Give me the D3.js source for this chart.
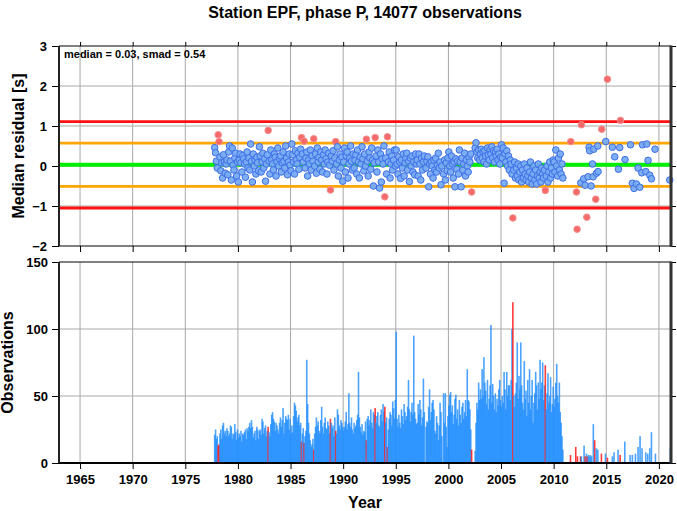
<!DOCTYPE html>
<html><head><meta charset="utf-8">
<script src="https://cdn.jsdelivr.net/npm/d3@7"></script>
<style>
body{margin:0;background:#fff}
svg{display:block}
text{font-family:"Liberation Sans",Arial,Helvetica,sans-serif;font-weight:bold;fill:#000}
</style>
</head><body><svg id="c" width="677" height="511"></svg>
<script>
// ---------- DATA ----------
const title = "Station EPF, phase P, 14077 observations";
const statsLabel = "median = 0.03, smad = 0.54";
const median = 0.03, smad = 0.54;
const firstYear = 1977, firstMonth = 10; // monthly series starts Oct 1977

const monthlyResidual = [
 0.46,0.33,0.12,
 -0.05,0.78,0.61,0.22,-0.12,0.08,-0.3,0.28,0.1,-0.18,0.05,0.15,
 -0.22,0.35,0.5,0.12,-0.35,0.45,0.02,-0.1,0.2,0.32,-0.25,0.1,
 -0.4,0.15,0.3,0.08,-0.15,0.26,0.18,0.05,-0.28,0.1,0.35,-0.05,
 0.2,-0.1,0.55,0.12,-0.4,0.3,0.0,0.15,-0.2,0.22,0.08,-0.12,
 0.48,0.25,-0.15,0.1,0.32,-0.05,0.18,-0.38,0.05,0.28,0.89,0.12,
 -0.2,0.4,0.15,0.05,-0.1,0.3,0.22,-0.25,0.1,0.45,0.0,0.18,
 0.25,-0.15,0.08,0.35,0.12,-0.05,0.5,0.2,-0.22,0.1,0.3,0.02,
 -0.12,0.55,0.28,0.1,-0.2,0.38,0.15,0.05,0.32,-0.08,0.22,0.42,
 0.71,0.3,0.1,0.62,-0.05,0.2,0.35,-0.25,0.15,0.05,0.4,-0.1,
 0.25,0.12,0.68,0.0,0.3,-0.18,0.45,0.1,0.22,-0.08,0.35,0.15,
 -0.15,0.28,0.05,0.4,0.18,-0.2,0.1,0.32,0.02,-0.6,0.25,0.12,
 0.38,-0.1,0.2,0.61,0.05,0.48,-0.25,0.15,0.3,-0.05,0.22,-0.38,
 0.1,0.45,-0.15,0.25,0.35,-0.3,0.05,0.2,0.5,0.12,-0.1,0.3,
 -0.05,0.15,0.28,-0.2,0.4,0.1,-0.3,0.22,0.05,0.48,0.18,-0.12,
 0.3,0.0,0.67,0.12,-0.25,0.35,0.2,-0.08,0.45,0.15,-0.5,0.08,
 0.71,0.25,-0.15,0.4,0.1,-0.55,0.3,-0.4,0.18,0.05,0.5,-0.77,
 0.2,-0.2,0.73,0.1,0.35,-0.3,0.05,0.25,-0.1,0.15,0.4,0.0,
 0.4,0.05,-0.2,0.23,0.1,-0.31,0.15,-0.05,0.3,-0.25,0.08,0.2,
 0.32,-0.1,0.12,-0.39,0.2,0.0,0.25,-0.15,0.1,-0.22,0.3,0.05,
 0.15,-0.25,0.3,0.05,-0.35,0.2,-0.1,0.1,0.25,null,-0.05,0.12,
 0.23,-0.52,0.05,-0.2,0.1,0.0,-0.3,0.15,-0.1,0.2,-0.15,0.02,
 0.32,-0.05,0.1,-0.47,0.0,null,-0.2,0.15,-0.35,0.08,-0.12,0.2,
 0.35,0.0,-0.15,0.25,0.05,-0.3,0.1,-0.52,0.18,-0.08,0.12,-0.2,
 0.4,0.1,-0.52,0.2,-0.1,0.05,0.32,-0.25,0.15,0.0,-0.15,0.22,
 0.1,0.3,-0.65,null,null,null,0.45,0.58,0.35,0.2,0.4,0.15,
 0.3,0.42,0.2,0.35,0.1,0.38,0.25,0.05,0.45,0.28,0.15,0.4,
 0.3,0.48,0.2,0.38,0.1,0.35,0.25,0.42,0.15,0.3,0.05,0.22,
 0.53,0.2,0.45,-0.43,0.3,0.1,0.38,0.0,0.25,-0.1,0.15,0.05,
 -0.2,-1.3,-0.1,0.1,-0.3,-0.05,-0.25,0.05,-0.35,-0.15,0.0,-0.4,
 -0.1,-0.3,0.05,-0.2,-0.35,-0.05,-0.25,-0.4,-0.15,0.1,-0.3,-0.45,
 -0.2,0.0,-0.35,-0.1,-0.45,-0.25,0.05,-0.3,-0.15,-0.4,-0.05,-0.2,
 -0.3,-0.1,-0.61,-0.25,0.0,-0.4,-0.15,0.1,-0.3,-0.05,-0.2,0.15,
 0.1,-0.15,0.4,0.0,-0.25,0.2,-0.1,0.3,-0.2,0.05,-0.3
];

const monthlyCount = [
 21,25,18,
 20,13,14,22,25,18,28,30,22,24,20,26,
 24,20,22,28,27,18,22,21,29,23,17,25,
 19,22,20,24,16,22,21,23,25,18,26,24,
 27,30,26,32,27,19,22,24,17,27,25,18,
 24,25,21,33,31,22,26,28,20,24,27,23,
 20,29,36,38,33,31,24,30,28,25,22,30,
 34,27,32,41,22,30,35,33,32,36,25,33,
 22,28,23,35,45,43,39,31,34,36,28,30,
 16,22,26,15,20,24,77,44,30,22,17,12,
 14,18,10,22,27,34,28,31,24,22,32,42,
 27,22,30,34,26,25,31,28,22,33,30,26,
 28,20,34,24,22,40,36,28,25,32,30,27,
 24,27,31,38,25,29,52,30,27,34,25,22,
 30,26,28,32,36,68,34,27,23,29,21,24,
 23,31,17,33,35,28,32,40,30,26,38,36,
 41,30,35,38,28,27,36,40,31,44,38,42,
 30,34,12,25,33,38,36,28,46,41,33,47,
 98,33,27,36,30,26,40,35,29,44,38,32,
 35,42,62,40,31,38,45,36,95,38,33,29,
 30,44,36,47,40,28,34,63,38,null,27,31,
 30,42,55,32,38,45,47,40,24,22,35,30,
 17,28,45,38,20,null,52,30,52,27,12,35,
 43,51,53,38,43,29,36,48,51,33,40,28,
 47,36,30,42,45,33,38,47,35,70,47,46,
 40,25,10,null,null,null,9,30,45,40,60,47,
 55,48,70,50,79,60,54,44,62,40,48,58,
 103,45,59,50,40,52,38,48,43,55,62,47,
 42,50,45,68,55,40,68,50,58,58,47,62,
 100,120,50,42,52,60,90,48,65,55,90,58,
 45,40,76,48,54,35,62,45,70,40,50,62,
 30,45,52,68,58,40,60,48,77,55,60,75,
 47,58,73,40,52,67,45,50,64,38,44,57,
 42,48,60,74,50,45,60,38,30,20,10
];

const outlierMonths = ["1978-02","1978-03","1982-11","1986-01","1986-04","1987-03","1988-10",
 "1989-04","1992-03","1993-01","1993-12","1994-03","2002-03","2006-02","2009-03"];

const lateYears = [2011.63,2012.17,2012.23,2012.58,2012.64,2012.86,2012.99,2013.15,2013.27,2013.37,
 2013.43,2013.56,2013.69,2013.75,2013.81,2014.0,2014.07,2014.19,2014.22,2014.57,2014.95,2015.11,
 2015.58,2015.8,2016.16,2016.28,2016.35,2016.78,2017.3,2017.48,2017.64,2017.86,2018.02,2018.18,
 2018.37,2018.44,2018.75,2018.85,2018.97,2019.13,2019.29,2019.63,2021.03];
const lateResidual = [0.61,-0.65,-1.58,-0.42,1.03,-0.32,-0.48,-1.28,-0.27,0.47,0.38,-0.5,0.05,-0.27,
 0.42,-0.83,-0.18,0.5,-0.14,0.92,0.61,2.17,0.47,0.23,-0.08,0.46,1.14,0.16,0.53,-0.43,-0.56,-0.45,
 -0.05,-0.53,-0.17,0.53,-0.14,0.55,0.14,-0.23,-0.32,0.42,-0.35];
const lateOutlier = [1,1,1,0,1,0,0,1,0,0,0,0,0,0,0,1,0,0,0,1,0,1,0,0,0,0,1,0,0,0,0,0,0,0,0,0,0,0,0,0,0,0,0];

const lateBarYears = [2011.6,2012.1,2012.26,2012.55,2012.64,2012.89,2012.99,2013.12,2013.18,2013.3,
 2013.4,2013.5,2013.6,2013.77,2013.9,2014.05,2014.2,2014.54,2014.92,2015.11,2015.58,2015.74,2016.12,
 2016.31,2016.76,2017.26,2017.48,2017.77,2018.02,2018.21,2018.4,2018.75,2018.94,2019.13,2019.29,
 2019.67,2021.09];
const lateBarCounts = [6,12,5,5,5,13,5,7,5,6,5,6,5,29,17,11,10,7,7,4,5,8,10,6,16,6,6,7,12,20,11,8,7,11,23,7,11];
const lateBarOutlier = [1,1,1,1,0,0,1,0,1,0,0,0,0,0,1,0,0,1,0,1,0,0,0,1,0,0,0,0,0,0,0,0,0,0,0,0,0];

const xTicks = [1965,1970,1975,1980,1985,1990,1995,2000,2005,2010,2015,2020];
const residTicks = [-2,-1,0,1,2,3];
const countTicks = [0,50,100,150];

// ---------- BUILD RECORDS ----------
const monthly = monthlyResidual.map((r, i) => {
  const m0 = firstMonth - 1 + i;
  const yr = firstYear + Math.floor(m0 / 12);
  const mo = (m0 % 12) + 1;
  const key = yr + "-" + String(mo).padStart(2, "0");
  return {t: yr + (mo - 0.5) / 12, resid: r, count: monthlyCount[i], out: outlierMonths.includes(key)};
});
const points = monthly.filter(d => d.resid !== null)
  .concat(lateYears.map((t, i) => ({t, resid: lateResidual[i], out: !!lateOutlier[i]})));
const bars = monthly.filter(d => d.count !== null)
  .concat(lateBarYears.map((t, i) => ({t, count: lateBarCounts[i], out: !!lateBarOutlier[i]})));

// ---------- LAYOUT ----------
const svg = d3.select("#c");
const L = 59, R = 671;
const top1 = 46, bot1 = 246, top2 = 262, bot2 = 463;
const x = d3.scaleLinear().domain([1963.0, 2021.15]).range([L, R]);
const yR = d3.scaleLinear().domain([-2, 3]).range([bot1, top1]);
const yC = d3.scaleLinear().domain([0, 150]).range([bot2, top2]);

const gridColor = "#a8a8a8";

// title
svg.append("text").attr("x", (L + R) / 2).attr("y", 18).attr("text-anchor", "middle")
  .style("font-size", "16px").text(title);

// ----- top panel grid -----
const g1 = svg.append("g");
g1.selectAll("line.vg").data(xTicks).join("line")
  .attr("x1", d => x(d)).attr("x2", d => x(d)).attr("y1", top1).attr("y2", bot1)
  .attr("stroke", gridColor).attr("stroke-width", 1);
g1.selectAll("line.hg").data(residTicks.filter(d => d > -2 && d < 3)).join("line")
  .attr("x1", L).attr("x2", R).attr("y1", d => yR(d)).attr("y2", d => yR(d))
  .attr("stroke", gridColor).attr("stroke-width", 1);

// reference lines
const refLines = [
  {v: median + 2 * smad, c: "#ff1010", w: 2.8},
  {v: median - 2 * smad, c: "#ff1010", w: 2.8},
  {v: median + smad, c: "#ffa500", w: 2.8},
  {v: median - smad, c: "#ffa500", w: 2.8},
  {v: median, c: "#00ee00", w: 4}
];
g1.selectAll("line.ref").data(refLines).join("line")
  .attr("x1", L).attr("x2", R).attr("y1", d => yR(d.v)).attr("y2", d => yR(d.v))
  .attr("stroke", d => d.c).attr("stroke-width", d => d.w);

// points
g1.selectAll("circle").data(points).join("circle")
  .attr("cx", d => x(d.t)).attr("cy", d => yR(d.resid)).attr("r", 3.3)
  .attr("fill", d => d.out ? "#f56262" : "#77abf2")
  .attr("stroke", d => d.out ? "#f39090" : "#3d6ee8")
  .attr("stroke-width", 1)
  .attr("fill-opacity", 0.95);

svg.append("text").attr("x", 64).attr("y", 58).style("font-size", "11px").text(statsLabel);

// ----- bottom panel -----
const g2 = svg.append("g");
g2.selectAll("line.vg").data(xTicks).join("line")
  .attr("x1", d => x(d)).attr("x2", d => x(d)).attr("y1", top2).attr("y2", bot2)
  .attr("stroke", gridColor).attr("stroke-width", 1);
g2.selectAll("line.hg").data([50, 100]).join("line")
  .attr("x1", L).attr("x2", R).attr("y1", d => yC(d)).attr("y2", d => yC(d))
  .attr("stroke", gridColor).attr("stroke-width", 1);

const bw = 1.6;
g2.selectAll("rect").data(bars).join("rect")
  .attr("x", d => x(d.t) - bw / 2).attr("width", bw)
  .attr("y", d => yC(d.count)).attr("height", d => yC(0) - yC(d.count))
  .attr("fill", d => d.out ? "#ff1a1a" : "#1e8cff")
  .attr("fill-opacity", d => d.out ? 0.85 : 0.8);

// ----- axes -----
function styleAxis(g, labels) {
  g.select(".domain").remove();
  g.selectAll(".tick line").attr("stroke", "#000").attr("stroke-width", 1);
  g.selectAll(".tick text").style("font-size", "13px").style("font-weight", "bold")
    .style("font-family", '"Liberation Sans",Arial,sans-serif').attr("fill", "#000");
  if (!labels) g.selectAll(".tick text").remove();
}
styleAxis(svg.append("g").attr("transform", `translate(${L},0)`)
  .call(d3.axisLeft(yR).tickValues(residTicks).tickSize(7).tickPadding(5).tickFormat(d3.format("d"))), true);
styleAxis(svg.append("g").attr("transform", `translate(${L},0)`)
  .call(d3.axisLeft(yC).tickValues(countTicks).tickSize(7).tickPadding(4).tickFormat(d3.format("d"))), true);
styleAxis(svg.append("g").attr("transform", `translate(${R},0)`)
  .call(d3.axisRight(yR).tickValues(residTicks).tickSize(5)), false);
styleAxis(svg.append("g").attr("transform", `translate(${R},0)`)
  .call(d3.axisRight(yC).tickValues(countTicks).tickSize(5)), false);
styleAxis(svg.append("g").attr("transform", `translate(0,${bot1})`)
  .call(d3.axisBottom(x).tickValues(xTicks).tickSize(6)), false);
styleAxis(svg.append("g").attr("transform", `translate(0,${top1})`)
  .call(d3.axisTop(x).tickValues(xTicks).tickSize(4)), false);
styleAxis(svg.append("g").attr("transform", `translate(0,${bot2})`)
  .call(d3.axisBottom(x).tickValues(xTicks).tickSize(6).tickPadding(6).tickFormat(d3.format("d"))), true);

// frames
function frame(t, b, bottomW) {
  svg.append("line").attr("x1", L).attr("x2", R).attr("y1", t).attr("y2", t).attr("stroke", "#000").attr("stroke-width", 1);
  svg.append("line").attr("x1", L).attr("x2", R).attr("y1", b).attr("y2", b).attr("stroke", "#000").attr("stroke-width", bottomW);
  svg.append("line").attr("x1", L).attr("x2", L).attr("y1", t).attr("y2", b).attr("stroke", "#222").attr("stroke-width", 2);
  svg.append("line").attr("x1", R).attr("x2", R).attr("y1", t - 0.5).attr("y2", b + 0.5).attr("stroke", "#333").attr("stroke-width", 3);
}
frame(top1, bot1, 1.2);
frame(top2, bot2, 2);

// axis titles
svg.append("text").attr("transform", `translate(24,${(top1 + bot1) / 2}) rotate(-90)`)
  .attr("text-anchor", "middle").style("font-size", "16px").text("Median residual [s]");
svg.append("text").attr("transform", `translate(13,${(top2 + bot2) / 2}) rotate(-90)`)
  .attr("text-anchor", "middle").style("font-size", "16px").text("Observations");
svg.append("text").attr("x", (L + R) / 2).attr("y", 508).attr("text-anchor", "middle")
  .style("font-size", "16px").text("Year");
</script>
</body></html>
